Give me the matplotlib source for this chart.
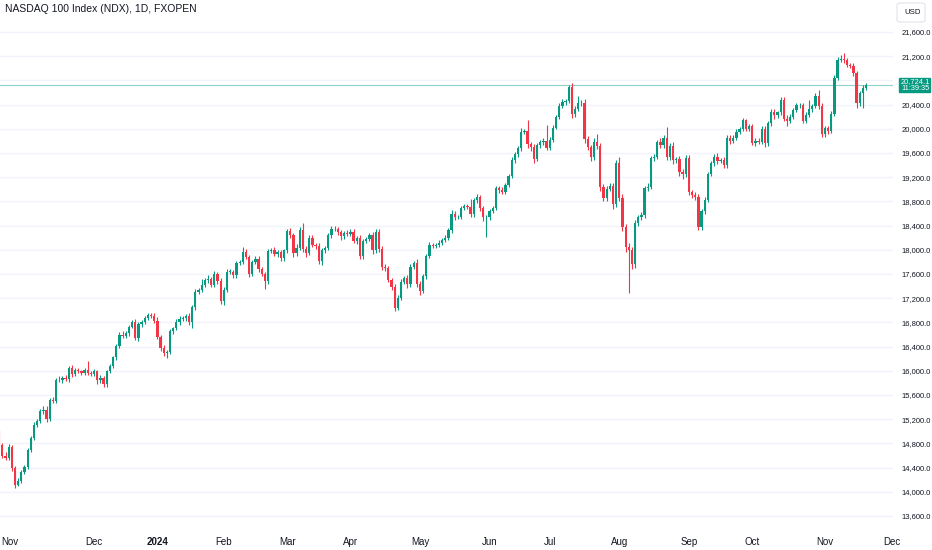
import matplotlib
matplotlib.use("Agg")
import matplotlib.pyplot as plt
from matplotlib.patches import Rectangle, FancyBboxPatch

plt.rcParams['font.family'] = ['Liberation Sans', 'DejaVu Sans']

# daily closes, NASDAQ 100 (FXOPEN), 19 Oct 2023 - 20 Nov 2024
first_open = 14940
close = [
    # Oct 2023
    14770, 14600, 14560, 14740, 14390, 14120, 14180, 14330, 14410,
    # Nov
    14690, 14890, 15100, 15170, 15330, 15360, 15200, 15520, 15500, 15850,
    15840, 15880, 15860, 16040, 15940, 16010, 15990, 15970, 16010, 15960, 15950,
    # Dec
    15990, 15840, 15880, 15780, 15990, 16080, 16220, 16410, 16590, 16580,
    16620, 16730, 16800, 16550, 16770, 16800, 16880, 16920, 16900, 16830,
    # Jan 2024
    16560, 16370, 16290, 16310, 16650, 16700, 16800, 16860, 16870, 16900,
    16810, 17050, 17310, 17330, 17420, 17500, 17520, 17420, 17600, 17480, 17150,
    # Feb
    17340, 17640, 17640, 17580, 17780, 17800, 17960, 17880, 17600, 17800,
    17850, 17680, 17600, 17480, 17980, 17990, 17930, 17960, 17860, 17990,
    # Mar
    18310, 18240, 17940, 18030, 18330, 18010, 17940, 18200, 18080, 18060,
    17810, 17990, 18030, 18240, 18340, 18350, 18290, 18220, 18280, 18260,
    # Apr
    18300, 18150, 18190, 17890, 18140, 18180, 18240, 17990, 18300, 18010, 17720,
    17700, 17500, 17390, 17040, 17210, 17470, 17530, 17430, 17720, 17780, 17440,
    # May
    17320, 17560, 17890, 18080, 18070, 18080, 18120, 18160, 18200, 18320, 18600,
    18540, 18550, 18690, 18720, 18710, 18590, 18820, 18870, 18690, 18540, 18540,
    # Jun
    18640, 18690, 19020, 18990, 18960, 19070, 19220, 19480, 19580, 19680,
    19950, 19970, 19750, 19700, 19500, 19730, 19780, 19800, 19690,
    # Jul
    19820, 20020, 20200, 20380, 20450, 20460, 20690, 20240, 20330, 20420, 20430,
    19830, 19700, 19530, 19790, 19710, 19040, 18860, 19010, 19060, 18760, 19430,
    # Aug
    18860, 18380, 18050, 17990, 17760, 18450, 18540, 18570, 19020, 19040, 19510,
    19540, 19780, 19730, 19850, 19530, 19720, 19480, 19500, 19280, 19250, 19520,
    # Sep
    18950, 18910, 18880, 18380, 18640, 18830, 19250, 19430, 19540, 19470,
    19480, 19400, 19850, 19800, 19850, 19950, 20000, 20140, 20000, 20040,
    # Oct
    19770, 19800, 19790, 20000, 19760, 20090, 20280, 20220, 20270, 20480, 20170, 20130,
    20200, 20310, 20390, 20390, 20130, 20230, 20320, 20380, 20550, 20380, 19920,
    # Nov
    20010, 19970, 20250, 20840, 21140, 21160, 21130, 21060, 21040, 20920,
    20430, 20590, 20680, 20724.1,
]

# wick length above / below the body, in index points
wick_up = [
    80, 40, 60, 50, 40, 30, 40, 30, 40,
    30, 40, 60, 30, 40, 50, 60, 30, 40, 30, 60, 40, 50, 40, 60, 30, 40, 30, 40, 150, 30,
    40, 30, 50, 40, 30, 40, 30, 40, 50, 60, 40, 30, 40, 60, 30, 40, 30, 40, 30, 50,
    60, 40, 50, 30, 40, 30, 50, 40, 30, 40, 60, 30, 50, 40, 90, 40, 60, 30, 50, 40, 60,
    50, 40, 40, 30, 40, 30, 80, 50, 40, 30, 50, 40, 30, 40, 30, 40, 60, 30, 40, 30,
    40, 50, 40, 60, 40, 120, 60, 40, 50, 40, 50, 40, 30, 40, 60, 40, 30, 40, 30, 40,
    50, 40, 40, 50, 40, 30, 40, 50, 40, 40, 60, 50, 40, 30, 40, 40, 50, 40, 50, 40, 40, 60,
    40, 40, 40, 50, 40, 30, 40, 30, 40, 40, 50, 40, 30, 40, 30, 40, 130, 40, 60, 40, 40, 40,
    40, 30, 40, 40, 50, 30, 40, 50, 40, 40, 60, 30, 170, 40, 50, 40, 30, 40, 270,
    40, 40, 30, 40, 50, 40, 40, 60, 40, 120, 40, 60, 50, 40, 60, 120, 60, 50, 40, 40, 50, 60,
    100, 60, 50, 60, 50, 40, 40, 50, 40, 60, 40, 40, 40, 60, 40, 180, 40, 60, 40, 50, 60, 40,
    50, 40, 50, 40, 40, 50, 40, 40, 40, 60, 40, 60, 40, 50, 40, 40, 30, 40, 30, 40,
    40, 40, 40, 40, 50, 40, 40, 40, 30, 40, 40, 50, 40, 40, 40, 30, 40, 40, 160, 30, 40, 90, 40,
    30, 40, 40, 50, 40, 60, 90, 40, 30, 40, 40, 40, 40, 30,
]
wick_dn = [
    30, 40, 40, 30, 40, 50, 30, 40, 30,
    40, 30, 40, 30, 40, 40, 50, 30, 40, 40, 30, 40, 30, 40, 40, 30, 30, 40, 40, 30, 40,
    30, 60, 40, 40, 40, 30, 40, 40, 30, 40, 30, 40, 30, 40, 60, 40, 30, 40, 30, 40,
    40, 50, 40, 80, 40, 40, 30, 40, 30, 40, 50, 100, 40, 40, 30, 40, 50, 40, 40, 50, 40,
    60, 40, 40, 50, 40, 30, 40, 40, 50, 40, 40, 50, 40, 130, 40, 40, 30, 50, 40, 40,
    40, 40, 60, 40, 40, 40, 60, 30, 40, 50, 40, 60, 40, 30, 40, 30, 40, 50, 40, 30,
    30, 40, 60, 50, 50, 30, 40, 60, 40, 40, 50, 50, 40, 60, 50, 40, 40, 30, 60, 40, 40, 60,
    60, 40, 40, 30, 40, 40, 30, 40, 30, 40, 40, 40, 30, 40, 40, 40, 40, 40, 40, 50, 60, 330,
    40, 30, 40, 50, 40, 30, 40, 40, 40, 40, 40, 40, 60, 60, 60, 40, 50, 40, 40,
    40, 40, 30, 40, 40, 50, 40, 60, 40, 40, 50, 60, 50, 70, 40, 50, 60, 60, 50, 40, 80, 60,
    60, 70, 80, 700, 70, 60, 50, 50, 40, 50, 40, 40, 40, 50, 40, 50, 40, 60, 40, 60, 80, 50,
    40, 60, 50, 60, 60, 40, 40, 30, 40, 50, 40, 40, 40, 50, 40, 30, 40, 40, 40, 40,
    40, 60, 40, 40, 60, 40, 40, 50, 40, 40, 40, 80, 40, 40, 30, 40, 40, 40, 40, 40, 40, 60, 50,
    60, 50, 40, 40, 40, 40, 40, 40, 40, 50, 90, 60, 250, 40,
]

month_pos = [3.5, 30, 50, 71, 91, 111, 133, 155, 174, 196, 218, 238, 261, 282]
month_lbl = ['Nov', 'Dec', '2024', 'Feb', 'Mar', 'Apr', 'May', 'Jun', 'Jul',
             'Aug', 'Sep', 'Oct', 'Nov', 'Dec']
price_ticks = list(range(13600, 21601, 400))
last_price = 20724.1
clock = '11:39:35'
title = 'NASDAQ 100 Index (NDX), 1D, FXOPEN'

up_c = '#089981'
dn_c = '#F23645'
txt_c = '#131722'

assert len(close) == len(wick_up) == len(wick_dn)

opens = [first_open] + close[:-1]
xs = list(range(len(close)))
cols = [up_c if c >= o else dn_c for o, c in zip(opens, close)]
highs = [max(o, c) + u for o, c, u in zip(opens, close, wick_up)]
lows = [min(o, c) - d for o, c, d in zip(opens, close, wick_dn)]
body_h = [max(abs(c - o), 8) for o, c in zip(opens, close)]
body_b = [min(o, c) for o, c in zip(opens, close)]

fig = plt.figure(figsize=(9.32, 5.5), dpi=100)
ax = fig.add_axes([0, 20 / 550, 893 / 932, 530 / 550])

ax.vlines(xs, lows, highs, colors=cols, lw=0.8, zorder=2)
ax.bar(xs, body_h, bottom=body_b, width=0.72, color=cols, lw=0, zorder=3)

ax.axhline(last_price, color='#8fd3c8', lw=0.8, zorder=1)

ax.set_xlim(0.26, 282.5)
ax.set_ylim(13368.6, 22129)

ax.yaxis.tick_right()
ax.set_yticks(price_ticks)
ax.set_yticklabels(['{:,.1f}'.format(p) for p in price_ticks])
ax.tick_params(axis='y', length=0, pad=6.3, labelsize=5.5, labelcolor=txt_c)
ax.set_xticks(month_pos)
ax.set_xticklabels(month_lbl)
ax.tick_params(axis='x', length=0, pad=5, labelsize=7, labelcolor=txt_c)
ax.get_xticklabels()[2].set_fontweight('bold')

ax.grid(axis='y', color='#f0f3fa', lw=1)
ax.set_axisbelow(True)
for s in ax.spines.values():
    s.set_visible(False)

# last price tag
fig.add_artist(Rectangle((899 / 932, 1 - 92 / 550), 31 / 932, 14 / 550,
                         transform=fig.transFigure, color=up_c, zorder=5))
fig.text(901 / 932, 1 - 81.6 / 550, '{:,.1f}'.format(last_price), color='white',
         fontsize=5.4, va='center', ha='left', zorder=6)
fig.text(901 / 932, 1 - 88.4 / 550, clock, color='white',
         fontsize=5.3, va='center', ha='left', zorder=6)

# currency box
fig.add_artist(FancyBboxPatch((897 / 932, 1 - 22 / 550), 28 / 932, 19 / 550,
                              boxstyle='round,pad=0,rounding_size=0.004',
                              transform=fig.transFigure, fc='white',
                              ec='#e0e3eb', lw=0.8))
fig.text(904 / 932, 1 - 12.5 / 550, 'USD', color=txt_c, fontsize=5.6, va='center')

fig.text(5 / 932, 1 - 9 / 550, title, color=txt_c, fontsize=7.5, va='center')

fig.savefig('out.png', dpi=100)
